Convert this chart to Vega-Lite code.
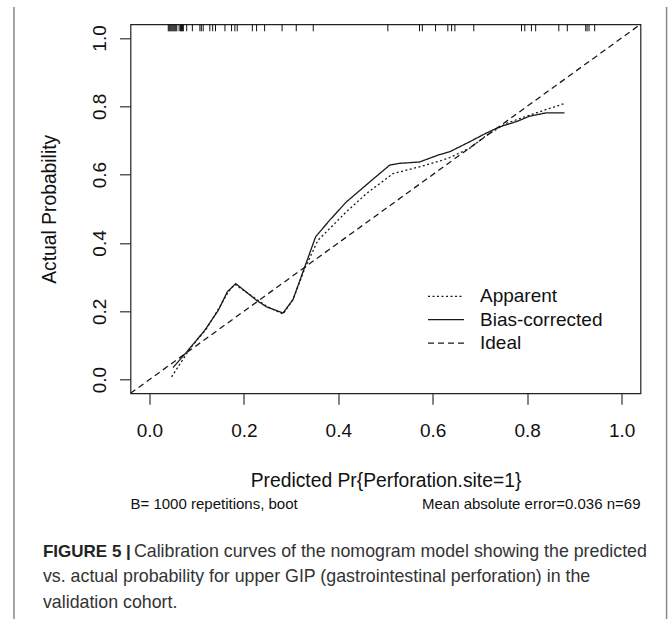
{
  "$schema": "https://vega.github.io/schema/vega-lite/v6.json",
  "width": 510,
  "height": 369,
  "autosize": {"type": "none"},
  "padding": {"left": 130.5, "top": 24.3, "right": 28.5, "bottom": 225.7},
  "background": "white",
  "config": {
    "view": {"stroke": "#222", "strokeWidth": 1.2},
    "font": "Liberation Sans"
  },
  "datasets": {
    "curves": [
      {"series": "Ideal", "x": -0.04, "y": -0.04},
      {"series": "Ideal", "x": 1.04, "y": 1.04},
      {"series": "Apparent", "x": 0.047, "y": 0.008},
      {"series": "Apparent", "x": 0.086, "y": 0.091},
      {"series": "Apparent", "x": 0.121, "y": 0.149},
      {"series": "Apparent", "x": 0.149, "y": 0.213},
      {"series": "Apparent", "x": 0.167, "y": 0.257},
      {"series": "Apparent", "x": 0.181, "y": 0.279},
      {"series": "Apparent", "x": 0.227, "y": 0.235},
      {"series": "Apparent", "x": 0.248, "y": 0.215},
      {"series": "Apparent", "x": 0.283, "y": 0.192},
      {"series": "Apparent", "x": 0.304, "y": 0.234},
      {"series": "Apparent", "x": 0.329, "y": 0.325},
      {"series": "Apparent", "x": 0.357, "y": 0.408},
      {"series": "Apparent", "x": 0.417, "y": 0.491},
      {"series": "Apparent", "x": 0.46, "y": 0.545},
      {"series": "Apparent", "x": 0.516, "y": 0.603},
      {"series": "Apparent", "x": 0.572, "y": 0.623},
      {"series": "Apparent", "x": 0.611, "y": 0.638},
      {"series": "Apparent", "x": 0.636, "y": 0.65},
      {"series": "Apparent", "x": 0.678, "y": 0.677},
      {"series": "Apparent", "x": 0.717, "y": 0.718},
      {"series": "Apparent", "x": 0.756, "y": 0.75},
      {"series": "Apparent", "x": 0.805, "y": 0.774},
      {"series": "Apparent", "x": 0.841, "y": 0.791},
      {"series": "Apparent", "x": 0.879, "y": 0.808},
      {"series": "Bias-corrected", "x": 0.05, "y": 0.035},
      {"series": "Bias-corrected", "x": 0.082, "y": 0.086},
      {"series": "Bias-corrected", "x": 0.117, "y": 0.144},
      {"series": "Bias-corrected", "x": 0.146, "y": 0.203},
      {"series": "Bias-corrected", "x": 0.165, "y": 0.257},
      {"series": "Bias-corrected", "x": 0.183, "y": 0.281},
      {"series": "Bias-corrected", "x": 0.227, "y": 0.232},
      {"series": "Bias-corrected", "x": 0.248, "y": 0.213},
      {"series": "Bias-corrected", "x": 0.283, "y": 0.195},
      {"series": "Bias-corrected", "x": 0.304, "y": 0.234},
      {"series": "Bias-corrected", "x": 0.329, "y": 0.33},
      {"series": "Bias-corrected", "x": 0.352, "y": 0.418},
      {"series": "Bias-corrected", "x": 0.382, "y": 0.467},
      {"series": "Bias-corrected", "x": 0.417, "y": 0.52},
      {"series": "Bias-corrected", "x": 0.467, "y": 0.579},
      {"series": "Bias-corrected", "x": 0.509, "y": 0.628},
      {"series": "Bias-corrected", "x": 0.53, "y": 0.633},
      {"series": "Bias-corrected", "x": 0.572, "y": 0.637},
      {"series": "Bias-corrected", "x": 0.611, "y": 0.657},
      {"series": "Bias-corrected", "x": 0.636, "y": 0.667},
      {"series": "Bias-corrected", "x": 0.678, "y": 0.696},
      {"series": "Bias-corrected", "x": 0.714, "y": 0.722},
      {"series": "Bias-corrected", "x": 0.742, "y": 0.74},
      {"series": "Bias-corrected", "x": 0.777, "y": 0.755},
      {"series": "Bias-corrected", "x": 0.805, "y": 0.771},
      {"series": "Bias-corrected", "x": 0.841, "y": 0.781},
      {"series": "Bias-corrected", "x": 0.879, "y": 0.781}
    ],
    "rug": [
      {"x": 0.04}, {"x": 0.042}, {"x": 0.044}, {"x": 0.046}, {"x": 0.048},
      {"x": 0.05}, {"x": 0.052}, {"x": 0.054}, {"x": 0.056}, {"x": 0.058},
      {"x": 0.063}, {"x": 0.066}, {"x": 0.068}, {"x": 0.07}, {"x": 0.072},
      {"x": 0.079}, {"x": 0.091}, {"x": 0.107}, {"x": 0.11}, {"x": 0.114},
      {"x": 0.128}, {"x": 0.134}, {"x": 0.14}, {"x": 0.16}, {"x": 0.174},
      {"x": 0.181}, {"x": 0.186}, {"x": 0.218}, {"x": 0.227}, {"x": 0.244},
      {"x": 0.281}, {"x": 0.311}, {"x": 0.347}, {"x": 0.505}, {"x": 0.572},
      {"x": 0.578}, {"x": 0.606}, {"x": 0.632}, {"x": 0.64}, {"x": 0.647},
      {"x": 0.687}, {"x": 0.788}, {"x": 0.795}, {"x": 0.809}, {"x": 0.818},
      {"x": 0.867}, {"x": 0.885}, {"x": 0.924}, {"x": 0.927}, {"x": 0.931},
      {"x": 0.943}
    ]
  },
  "layer": [
    {
      "data": {"name": "curves"},
      "mark": {"type": "line", "strokeWidth": 1.3, "color": "#1a1a1a", "clip": true},
      "encoding": {
        "x": {
          "field": "x", "type": "quantitative",
          "scale": {"domain": [-0.04, 1.04], "nice": false, "zero": false},
          "axis": {
            "values": [0, 0.2, 0.4, 0.6, 0.8, 1], "format": ".1f",
            "domain": false, "grid": false, "tickSize": 11, "tickColor": "#333", "tickWidth": 1.2,
            "labelFontSize": 19, "labelColor": "#111", "labelPadding": 17, "labelFont": "Liberation Sans",
            "title": "Predicted Pr{Perforation.site=1}", "titleFontSize": 19.3, "titleFontWeight": "normal",
            "titleColor": "#111", "titlePadding": 31, "titleFont": "Liberation Sans"
          }
        },
        "y": {
          "field": "y", "type": "quantitative",
          "scale": {"domain": [-0.04, 1.04], "nice": false, "zero": false},
          "axis": {
            "values": [0, 0.2, 0.4, 0.6, 0.8, 1], "format": ".1f",
            "domain": false, "grid": false, "tickSize": 11, "tickColor": "#333", "tickWidth": 1.2,
            "labelAngle": -90, "labelAlign": "center", "labelBaseline": "bottom",
            "labelFontSize": 19, "labelColor": "#111", "labelPadding": 10, "labelFont": "Liberation Sans",
            "title": "Actual Probability", "titleFontSize": 19.3, "titleFontWeight": "normal",
            "titleColor": "#111", "titlePadding": 31, "titleFont": "Liberation Sans"
          }
        },
        "strokeDash": {
          "field": "series", "type": "nominal",
          "scale": {"domain": ["Apparent", "Bias-corrected", "Ideal"], "range": [[2, 2.5], [1, 0], [6, 4]]},
          "legend": {
            "title": null, "orient": "none", "legendX": 302.5, "legendY": 259,
            "symbolType": "M-1.5,0H1.5", "symbolSize": 576, "symbolStrokeWidth": 1.3, "symbolStrokeColor": "#1a1a1a",
            "labelFontSize": 19, "labelOffset": 21, "rowPadding": 0.4, "padding": 0,
            "labelColor": "#111", "labelFont": "Liberation Sans"
          }
        }
      }
    },
    {
      "data": {"name": "rug"},
      "mark": {"type": "rule", "strokeWidth": 1, "color": "#111"},
      "encoding": {
        "x": {"field": "x", "type": "quantitative"},
        "y": {"datum": 1.04},
        "y2": {"datum": 1.0195}
      }
    },
    {
      "data": {"values": [{}]},
      "mark": {"type": "text", "align": "left", "baseline": "middle", "fontSize": 15, "color": "#111", "font": "Liberation Sans"},
      "encoding": {"x": {"datum": -0.04}, "y": {"datum": -0.365}, "text": {"value": "B= 1000 repetitions, boot"}}
    },
    {
      "data": {"values": [{}]},
      "mark": {"type": "text", "align": "right", "baseline": "middle", "fontSize": 15, "color": "#111", "font": "Liberation Sans"},
      "encoding": {"x": {"datum": 1.04}, "y": {"datum": -0.365}, "text": {"value": "Mean absolute error=0.036 n=69"}}
    },
    {
      "data": {"values": [{}]},
      "mark": {"type": "text", "align": "left", "baseline": "middle", "fontSize": 17, "fontWeight": "bold", "color": "#222", "font": "Liberation Sans"},
      "encoding": {"x": {"datum": -0.2254}, "y": {"datum": -0.5059}, "text": {"value": "FIGURE 5 |"}}
    },
    {
      "data": {"values": [{}]},
      "mark": {"type": "text", "align": "left", "baseline": "middle", "fontSize": 17.8, "color": "#333", "font": "Liberation Sans"},
      "encoding": {"x": {"datum": -0.0328}, "y": {"datum": -0.5059}, "text": {"value": "Calibration curves of the nomogram model showing the predicted"}}
    },
    {
      "data": {"values": [{}]},
      "mark": {"type": "text", "align": "left", "baseline": "middle", "fontSize": 17.8, "color": "#333", "font": "Liberation Sans"},
      "encoding": {"x": {"datum": -0.2254}, "y": {"datum": -0.5791}, "text": {"value": "vs. actual probability for upper GIP (gastrointestinal perforation) in the"}}
    },
    {
      "data": {"values": [{}]},
      "mark": {"type": "text", "align": "left", "baseline": "middle", "fontSize": 17.8, "color": "#333", "font": "Liberation Sans"},
      "encoding": {"x": {"datum": -0.2254}, "y": {"datum": -0.6523}, "text": {"value": "validation cohort."}}
    },
    {
      "data": {"values": [{}]},
      "mark": {"type": "rule", "strokeWidth": 1.5, "color": "#888"},
      "encoding": {"x": {"datum": -0.2868}, "y": {"datum": 1.0905}, "y2": {"datum": -0.75}}
    },
    {
      "data": {"values": [{}]},
      "mark": {"type": "rule", "strokeWidth": 1.5, "color": "#888"},
      "encoding": {"x": {"datum": 1.0952}, "y": {"datum": 1.0905}, "y2": {"datum": -0.75}}
    }
  ]
}
